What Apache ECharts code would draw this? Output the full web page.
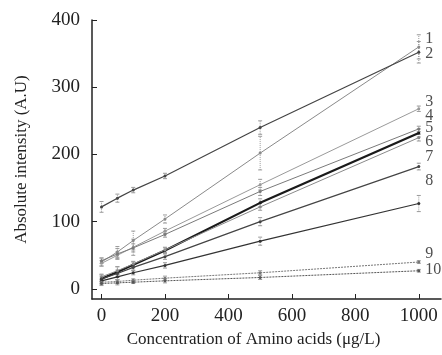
<!DOCTYPE html>
<html>
<head>
<meta charset="utf-8">
<script src="https://cdn.jsdelivr.net/npm/echarts@6/dist/echarts.min.js"></script>
<style>
  html, body { margin: 0; padding: 0; background: #fff; }
  #chart { width: 442px; height: 355px; }
</style>
</head>
<body>
<div id="chart"></div>
<script>
// concentrations (ug/L)
const conc = [0, 50, 100, 200, 500, 1000]
const xTicks = [0, 200, 400, 600, 800, 1000]
const yTicks = [0, 100, 200, 300, 400]

// absolute intensity per curve
const curve1 = [40, 55, 72, 104, 202, 360]
const curve2 = [122, 135, 147, 168, 240, 352]
const curve3 = [38, 50, 62, 86, 155, 268]
const curve4 = [42, 52, 61, 81, 145, 238]
const curve5 = [15, 25, 36, 57, 128, 232]
const curve6 = [18, 27, 37, 58, 122, 225]
const curve7 = [15, 23, 32, 48, 100, 182]
const curve8 = [12, 18, 24, 35, 71, 127]
const curve9 = [10, 11, 13, 16, 24, 40]
const curve10 = [8, 9, 10, 12, 17, 27]

// error bar half-widths
const err1 = [6, 8, 14, 6, 25, 18]
const err2 = [8, 6, 4, 4, 10, 16]
const err3 = [4, 5, 12, 4, 8, 4]
const err4 = [4, 8, 6, 4, 6, 4]
const err5 = [6, 8, 4, 4, 6, 6]
const err6 = [4, 6, 4, 4, 5, 5]
const err7 = [4, 5, 4, 4, 6, 5]
const err8 = [4, 4, 3, 4, 6, 12]
const err9 = [3, 3, 2, 3, 3, 2]
const err10 = [3, 3, 2, 3, 3, 2]

const names = ['1', '2', '3', '4', '5', '6', '7', '8', '9', '10']
// where the curve numbers sit at the right (intensity units)
const labelAt = [372, 349, 279, 258, 240, 219, 197, 161, 52, 28]
const labelX = 1020

const curves = [curve1, curve2, curve3, curve4, curve5, curve6, curve7, curve8, curve9, curve10]
const errs = [err1, err2, err3, err4, err5, err6, err7, err8, err9, err10]
const colors = ['#8a8a8a', '#444', '#9a9a9a', '#7a7a7a', '#1a1a1a', '#8a8a8a', '#444', '#333', '#777', '#555']
const widths = [1, 1.2, 1, 1, 2.2, 1, 1.2, 1.2, 1, 1]
const dashed = [false, false, false, false, false, false, false, false, true, true]

const serif = '"Liberation Serif", "DejaVu Serif", serif'

const series = []
curves.forEach((c, i) => {
  series.push({
    name: names[i], type: 'line',
    data: conc.map((x, j) => [x, c[j]]),
    symbol: 'circle', symbolSize: 3,
    itemStyle: { color: colors[i] },
    lineStyle: { color: colors[i], width: widths[i], type: dashed[i] ? [2, 1] : 'solid' },
    z: 3
  })
  series.push({
    type: 'custom',
    data: conc.map((x, j) => [x, c[j] - errs[i][j], c[j] + errs[i][j]]),
    renderItem: (params, api) => {
      const lo = api.coord([api.value(0), api.value(1)])
      const hi = api.coord([api.value(0), api.value(2)])
      const w = 2
      const st = { stroke: '#9a9a9a', lineWidth: 1, lineDash: [1, 1] }
      return {
        type: 'group',
        children: [
          { type: 'line', shape: { x1: lo[0], y1: lo[1], x2: hi[0], y2: hi[1] }, style: st },
          { type: 'line', shape: { x1: lo[0] - w, y1: lo[1], x2: lo[0] + w, y2: lo[1] }, style: { stroke: '#9a9a9a', lineWidth: 1 } },
          { type: 'line', shape: { x1: hi[0] - w, y1: hi[1], x2: hi[0] + w, y2: hi[1] }, style: { stroke: '#9a9a9a', lineWidth: 1 } }
        ]
      }
    },
    z: 2
  })
})

series.push({
  type: 'scatter',
  data: names.map((n, i) => ({ name: n, value: [labelX, labelAt[i]] })),
  symbolSize: 0,
  label: {
    show: true, position: 'right', distance: 0,
    formatter: p => p.name,
    color: '#222', fontFamily: serif, fontSize: 16
  },
  silent: true, z: 4
})

const chart = echarts.init(document.getElementById('chart'))
chart.setOption({
  animation: false,
  backgroundColor: '#fff',
  grid: { left: 92, right: 1, top: 20, bottom: 56, outerBoundsMode: 'none', containLabel: false },
  xAxis: {
    type: 'value', min: -30, max: 1070,
    name: 'Concentration of Amino acids (\u03bcg/L)',
    nameLocation: 'middle', nameGap: 30,
    nameTextStyle: { color: '#222', fontFamily: serif, fontSize: 17, padding: [0, 26, 0, 0] },
    axisLine: { onZero: false, lineStyle: { color: '#222', width: 1.5 } },
    axisTick: { inside: true, length: 5, customValues: xTicks, lineStyle: { color: '#222' } },
    axisLabel: { customValues: xTicks, formatter: v => String(v), color: '#222', fontFamily: serif, fontSize: 19, margin: 8 },
    splitLine: { show: false }
  },
  yAxis: {
    type: 'value', min: -15, max: 400,
    name: 'Absolute intensity (A.U)',
    nameLocation: 'middle', nameGap: 62, nameRotate: 90,
    nameTextStyle: { color: '#222', fontFamily: serif, fontSize: 17 },
    axisLine: { show: true, onZero: false, lineStyle: { color: '#222', width: 1.5 } },
    axisTick: { show: true, inside: true, length: 5, customValues: yTicks, lineStyle: { color: '#222' } },
    axisLabel: { customValues: yTicks, formatter: v => String(v), color: '#222', fontFamily: serif, fontSize: 19, margin: 12 },
    splitLine: { show: false }
  },
  series: series
})
</script>
</body>
</html>
